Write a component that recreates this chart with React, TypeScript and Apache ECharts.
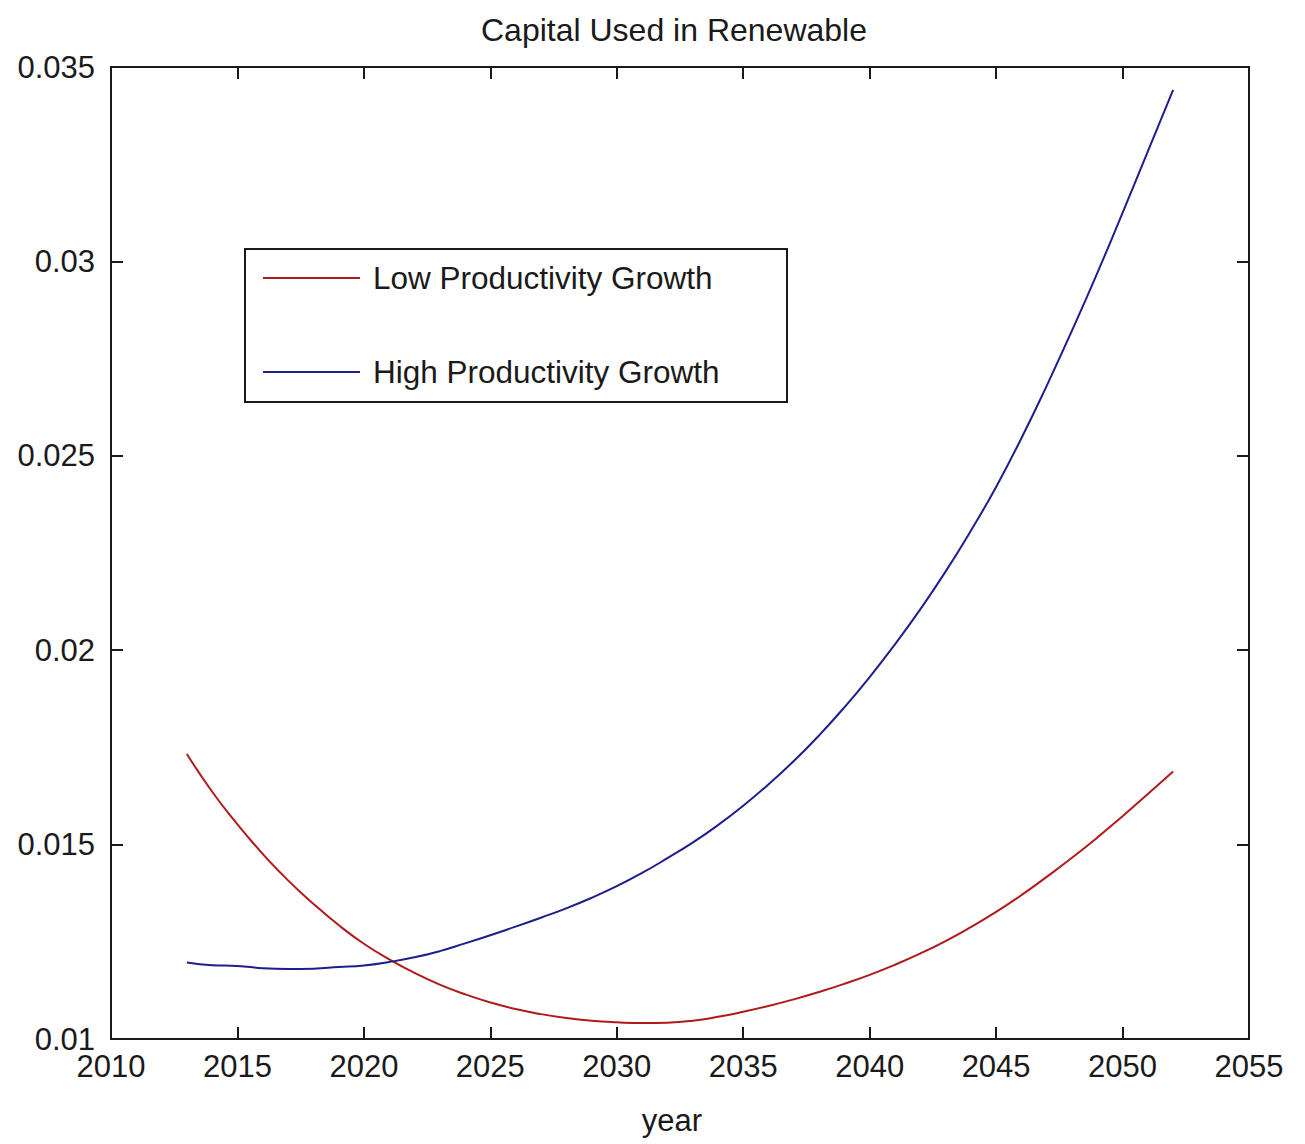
import React, { useEffect, useRef } from "react";
import * as echarts from "echarts";

// Years simulated
const years: number[] = [
  2013, 2014, 2015, 2016, 2017, 2018, 2019, 2020, 2021, 2022,
  2023, 2024, 2025, 2026, 2027, 2028, 2029, 2030, 2031, 2032,
  2033, 2034, 2035, 2036, 2037, 2038, 2039, 2040, 2041, 2042,
  2043, 2044, 2045, 2046, 2047, 2048, 2049, 2050, 2051, 2052,
];

// Capital used in renewable energy, low productivity growth scenario
const lowGrowth: number[] = [
  0.01733, 0.01636, 0.01552, 0.01476, 0.01408, 0.01348, 0.01293, 0.01245, 0.01205, 0.0117,
  0.0114, 0.01115, 0.01094, 0.01077, 0.01064, 0.01054, 0.01047, 0.01043, 0.01041, 0.01042,
  0.01047, 0.01057, 0.0107, 0.01085, 0.01102, 0.01121, 0.01142, 0.01165, 0.01191, 0.0122,
  0.01252, 0.01288, 0.01327, 0.0137, 0.01417, 0.01466, 0.01518, 0.01573, 0.0163, 0.01688,
];

// Capital used in renewable energy, high productivity growth scenario
const highGrowth: number[] = [
  0.01197, 0.0119, 0.01188, 0.01182, 0.0118, 0.01181, 0.01185, 0.01189, 0.01198, 0.0121,
  0.01226, 0.01246, 0.01267, 0.01289, 0.01312, 0.01336, 0.01363, 0.01393, 0.01427, 0.01465,
  0.01505, 0.0155, 0.016, 0.01655, 0.01715, 0.01781, 0.01853, 0.01931, 0.02015, 0.02105,
  0.02202, 0.02307, 0.0242, 0.02545, 0.0268, 0.02822, 0.0297, 0.03125, 0.03283, 0.03441,
];

const seriesNames: string[] = ["Low Productivity Growth", "High Productivity Growth"];
const titleText = "Capital Used in Renewable";
const xAxisName = "year";

const FONT = "'Liberation Sans', Arial, sans-serif";
const INK = "#1a1a1a";

export default function App() {
  const ref = useRef<HTMLDivElement>(null);

  useEffect(() => {
    if (!ref.current) return;
    const chart = echarts.init(ref.current, undefined, { renderer: "svg" });

    const pairs = (vals: number[]) => years.map((y, i) => [y, vals[i]]);

    const boxAxisLine = { show: true, lineStyle: { color: INK, width: 2 } };
    const boxTick = { show: true, inside: true, length: 12, lineStyle: { color: INK, width: 2 } };

    chart.setOption({
      animation: false,
      backgroundColor: "#ffffff",
      textStyle: { fontFamily: FONT },
      title: {
        text: titleText,
        left: 476,
        top: 9,
        textStyle: { fontFamily: FONT, fontSize: 32, fontWeight: "normal", color: INK },
      },
      grid: { left: 111, right: 56, top: 67, bottom: 105, outerBoundsMode: "none" },
      legend: {
        orient: "vertical",
        left: 263,
        top: 262,
        padding: 0,
        icon: "rect",
        itemWidth: 97,
        itemHeight: 2,
        itemGap: 62,
        data: seriesNames,
        textStyle: {
          fontFamily: FONT,
          fontSize: 31.5,
          lineHeight: 32,
          color: INK,
          padding: [0, 0, 0, 8],
        },
      },
      graphic: [
        {
          type: "rect",
          shape: { x: 245, y: 249, width: 542, height: 153 },
          style: { fill: "none", stroke: INK, lineWidth: 2 },
          z: 10,
        },
      ],
      xAxis: [
        {
          type: "value",
          min: 2010,
          max: 2055,
          interval: 5,
          name: xAxisName,
          nameLocation: "middle",
          nameGap: 66,
          nameTextStyle: { fontFamily: FONT, fontSize: 31, color: INK, padding: [0, 16, 0, 0] },
          axisLine: boxAxisLine,
          axisTick: boxTick,
          splitLine: { show: false },
          axisLabel: {
            margin: 12,
            fontFamily: FONT,
            fontSize: 31,
            color: INK,
            formatter: (v: number) => String(v),
          },
        },
        {
          type: "value",
          position: "top",
          min: 2010,
          max: 2055,
          interval: 5,
          axisLine: boxAxisLine,
          axisTick: boxTick,
          axisLabel: { show: false },
          splitLine: { show: false },
        },
      ],
      yAxis: [
        {
          type: "value",
          min: 0.01,
          max: 0.035,
          interval: 0.005,
          axisLine: boxAxisLine,
          axisTick: boxTick,
          splitLine: { show: false },
          axisLabel: {
            margin: 16,
            fontFamily: FONT,
            fontSize: 31,
            color: INK,
            padding: [0, 0, 10, 0],
            formatter: (v: number) => String(parseFloat(v.toFixed(3))),
          },
        },
        {
          type: "value",
          position: "right",
          min: 0.01,
          max: 0.035,
          interval: 0.005,
          axisLine: boxAxisLine,
          axisTick: boxTick,
          axisLabel: { show: false },
          splitLine: { show: false },
        },
      ],
      series: [
        {
          name: seriesNames[0],
          type: "line",
          xAxisIndex: 0,
          yAxisIndex: 0,
          data: pairs(lowGrowth),
          symbol: "none",
          smooth: true,
          lineStyle: { color: "#b01a1a", width: 2 },
          itemStyle: { color: "#b01a1a" },
        },
        {
          name: seriesNames[1],
          type: "line",
          xAxisIndex: 0,
          yAxisIndex: 0,
          data: pairs(highGrowth),
          symbol: "none",
          smooth: true,
          lineStyle: { color: "#1e1e8c", width: 2 },
          itemStyle: { color: "#1e1e8c" },
        },
      ],
    });

    return () => chart.dispose();
  }, []);

  return (
    <div
      ref={ref}
      style={{ position: "absolute", left: 0, top: 0, width: 1305, height: 1144, background: "#fff" }}
    />
  );
}
